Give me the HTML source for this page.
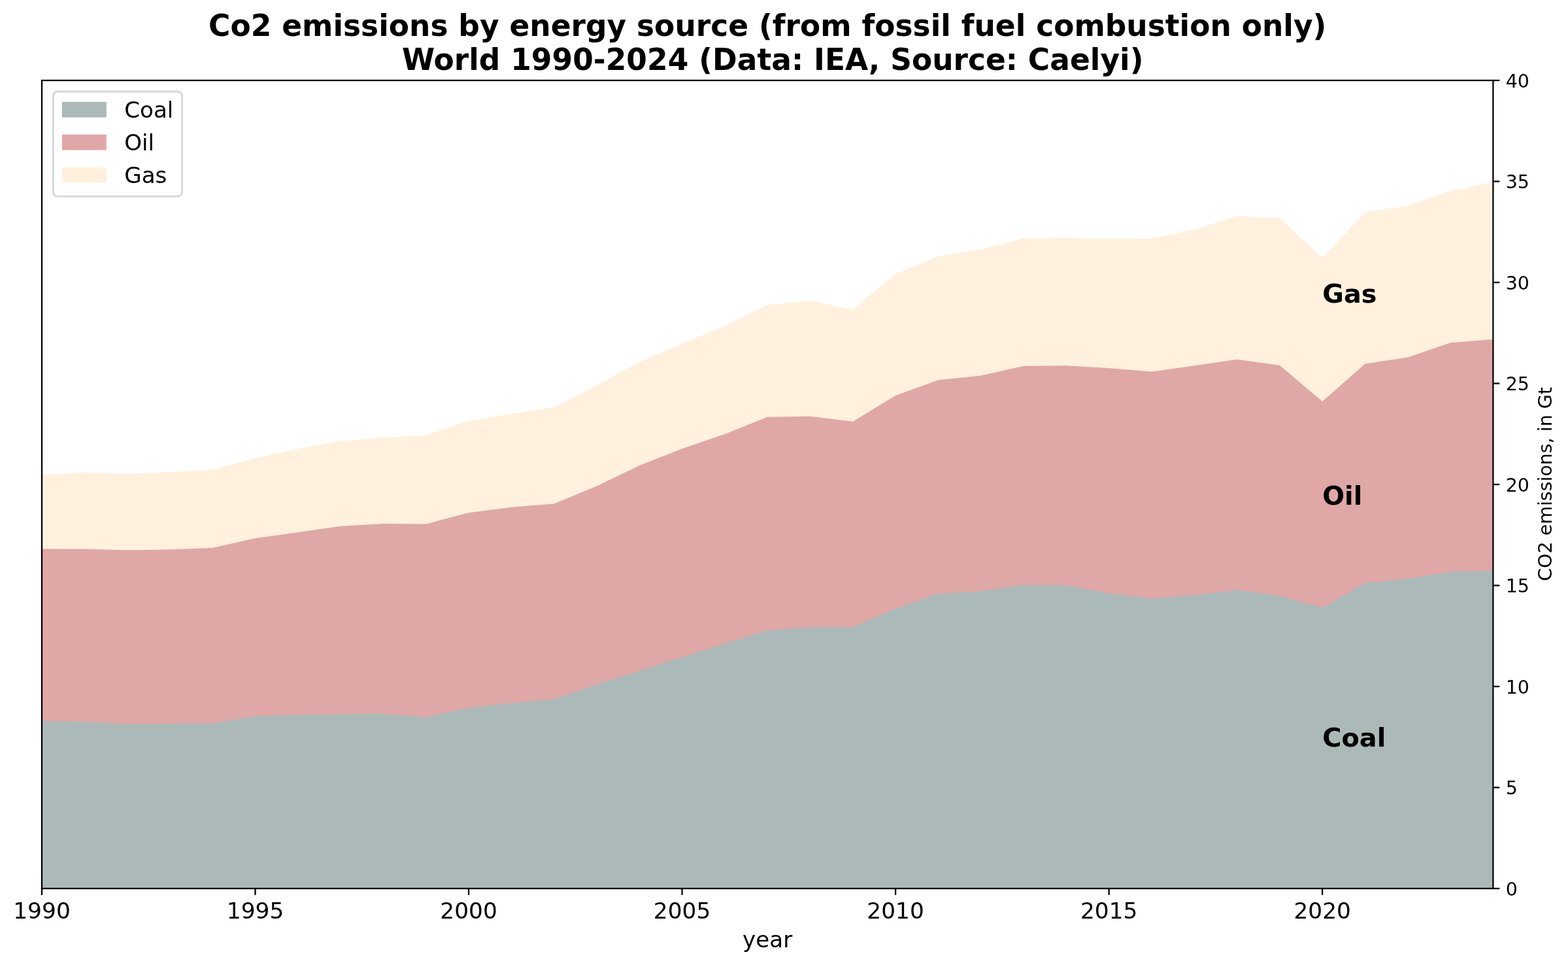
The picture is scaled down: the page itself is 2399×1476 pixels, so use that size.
<!DOCTYPE html>
<html lang="en">
<head>
<meta charset="utf-8">
<title>Co2 emissions by energy source</title>
<style>
html,body{margin:0;padding:0;background:#fff;}
body{width:2399px;height:1476px;overflow:hidden;}
svg{display:block;}
text{font-family:"DejaVu Sans","Liberation Sans",sans-serif;fill:#000;}
.b{font-weight:bold;}
</style>
</head>
<body>
<svg width="2399" height="1476" viewBox="0 0 2399 1476">
<rect x="0" y="0" width="2399" height="1476" fill="#ffffff"/>
<polygon points="64.00,726.25 129.31,722.75 194.61,724.75 259.92,721.75 325.22,718.50 390.53,700.75 455.84,686.50 521.14,674.50 586.45,669.40 651.75,665.50 717.06,643.75 782.36,633.00 847.67,622.75 912.98,589.50 978.28,554.00 1043.59,525.50 1108.89,498.60 1174.20,466.25 1239.51,460.25 1304.81,473.00 1370.12,419.00 1435.42,392.00 1500.73,381.75 1566.04,364.25 1631.34,364.00 1696.65,364.60 1761.95,365.25 1827.26,351.00 1892.56,330.50 1957.87,333.50 2023.18,395.00 2088.48,324.50 2153.79,314.50 2219.09,292.00 2284.40,279.00 2284.40,1359.00 64.00,1359.00" fill="#fff1de"/>
<polygon points="64.00,839.50 129.31,839.75 194.61,841.50 259.92,840.50 325.22,838.00 390.53,823.25 455.84,814.25 521.14,804.75 586.45,800.90 651.75,801.50 717.06,784.25 782.36,775.75 847.67,770.50 912.98,743.50 978.28,712.00 1043.59,686.25 1108.89,664.10 1174.20,637.75 1239.51,636.75 1304.81,644.75 1370.12,605.00 1435.42,581.25 1500.73,574.50 1566.04,559.75 1631.34,559.25 1696.65,563.10 1761.95,568.50 1827.26,559.25 1892.56,549.75 1957.87,558.75 2023.18,614.00 2088.48,556.50 2153.79,546.50 2219.09,524.25 2284.40,519.00 2284.40,1359.00 64.00,1359.00" fill="#e0a7a7"/>
<polygon points="64.00,1102.50 129.31,1104.00 194.61,1107.75 259.92,1107.00 325.22,1106.25 390.53,1095.50 455.84,1093.50 521.14,1092.25 586.45,1091.75 651.75,1096.90 717.06,1082.50 782.36,1075.25 847.67,1069.25 912.98,1047.00 978.28,1026.25 1043.59,1005.00 1108.89,984.60 1174.20,964.00 1239.51,959.25 1304.81,959.25 1370.12,931.00 1435.42,908.00 1500.73,904.25 1566.04,894.50 1631.34,895.50 1696.65,907.40 1761.95,915.25 1827.26,910.25 1892.56,902.50 1957.87,911.25 2023.18,929.75 2088.48,891.75 2153.79,885.00 2219.09,874.75 2284.40,872.75 2284.40,1359.00 64.00,1359.00" fill="#acb9b9"/>
<g stroke="#000" stroke-width="2.28" fill="none">
<line x1="64.00" y1="1359.0" x2="64.00" y2="1368.97"/>
<line x1="390.53" y1="1359.0" x2="390.53" y2="1368.97"/>
<line x1="717.06" y1="1359.0" x2="717.06" y2="1368.97"/>
<line x1="1043.59" y1="1359.0" x2="1043.59" y2="1368.97"/>
<line x1="1370.12" y1="1359.0" x2="1370.12" y2="1368.97"/>
<line x1="1696.65" y1="1359.0" x2="1696.65" y2="1368.97"/>
<line x1="2023.18" y1="1359.0" x2="2023.18" y2="1368.97"/>
<line x1="2284.4" y1="1359.00" x2="2294.37" y2="1359.00"/>
<line x1="2284.4" y1="1204.50" x2="2294.37" y2="1204.50"/>
<line x1="2284.4" y1="1050.00" x2="2294.37" y2="1050.00"/>
<line x1="2284.4" y1="895.50" x2="2294.37" y2="895.50"/>
<line x1="2284.4" y1="741.00" x2="2294.37" y2="741.00"/>
<line x1="2284.4" y1="586.50" x2="2294.37" y2="586.50"/>
<line x1="2284.4" y1="432.00" x2="2294.37" y2="432.00"/>
<line x1="2284.4" y1="277.50" x2="2294.37" y2="277.50"/>
<line x1="2284.4" y1="123.00" x2="2294.37" y2="123.00"/>
<rect x="64.0" y="123.0" width="2220.40" height="1236.00" stroke-linejoin="miter"/>
</g>
<text x="64.00" y="1405.0" font-size="34.4" text-anchor="middle">1990</text>
<text x="390.53" y="1405.0" font-size="34.4" text-anchor="middle">1995</text>
<text x="717.06" y="1405.0" font-size="34.4" text-anchor="middle">2000</text>
<text x="1043.59" y="1405.0" font-size="34.4" text-anchor="middle">2005</text>
<text x="1370.12" y="1405.0" font-size="34.4" text-anchor="middle">2010</text>
<text x="1696.65" y="1405.0" font-size="34.4" text-anchor="middle">2015</text>
<text x="2023.18" y="1405.0" font-size="34.4" text-anchor="middle">2020</text>
<text x="2303.70" y="1369.90" font-size="28.47">0</text>
<text x="2303.70" y="1215.40" font-size="28.47">5</text>
<text x="2303.70" y="1060.90" font-size="28.47">10</text>
<text x="2303.70" y="906.40" font-size="28.47">15</text>
<text x="2303.70" y="751.90" font-size="28.47">20</text>
<text x="2303.70" y="597.40" font-size="28.47">25</text>
<text x="2303.70" y="442.90" font-size="28.47">30</text>
<text x="2303.70" y="288.40" font-size="28.47">35</text>
<text x="2303.70" y="133.90" font-size="28.47">40</text>
<text x="1174.2" y="1449.2" font-size="34.17" text-anchor="middle">year</text>
<text transform="translate(2373.6,740.4) rotate(-90)" font-size="28.47" text-anchor="middle">CO2 emissions, in Gt</text>
<text class="b" x="1174.2" y="55.3" font-size="45.5" text-anchor="middle">Co2 emissions by energy source (from fossil fuel combustion only)</text>
<text class="b" x="1182.2" y="106.6" font-size="45.5" text-anchor="middle">World 1990-2024 (Data: IEA, Source: Caelyi)</text>
<rect x="81.25" y="140" width="197.35" height="160.4" rx="6.8" ry="6.8" fill="#ffffff" stroke="#d6d6d6" stroke-width="2.85"/>
<rect x="94.9" y="155.80" width="67.9" height="23.8" fill="#acb9b9"/>
<text x="190.2" y="180.20" font-size="34.17">Coal</text>
<rect x="94.9" y="205.80" width="67.9" height="23.8" fill="#e0a7a7"/>
<text x="190.2" y="230.20" font-size="34.17">Oil</text>
<rect x="94.9" y="255.80" width="67.9" height="23.8" fill="#fff1de"/>
<text x="190.2" y="280.20" font-size="34.17">Gas</text>
<text class="b" x="2023.2" y="462.7" font-size="39.86">Gas</text>
<text class="b" x="2023.2" y="771.7" font-size="39.86">Oil</text>
<text class="b" x="2023.2" y="1142.3" font-size="39.86">Coal</text>
</svg>
</body>
</html>
